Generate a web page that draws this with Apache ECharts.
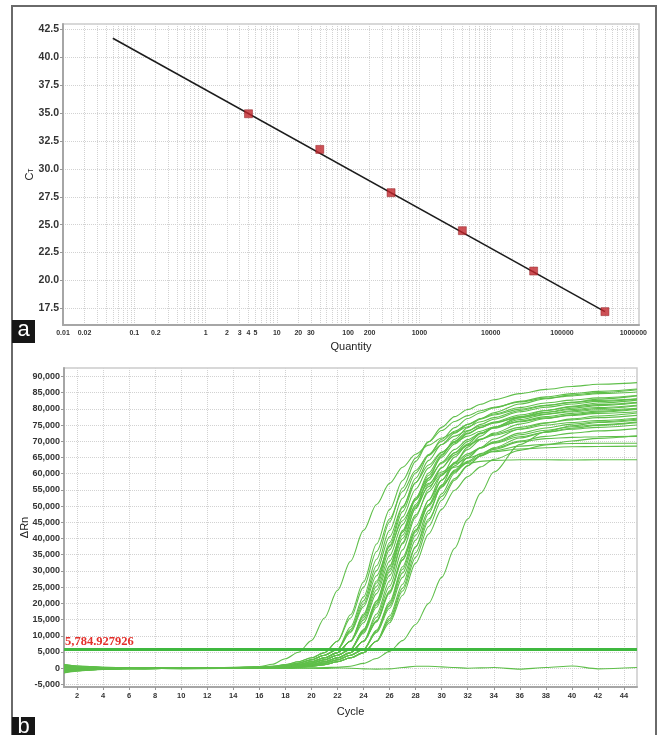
<!DOCTYPE html>
<html><head><meta charset="utf-8">
<script src="https://cdn.jsdelivr.net/npm/echarts@6/dist/echarts.min.js"></script>
<style>html,body{margin:0;padding:0;background:#fff}#c{width:659px;height:735px}</style>
</head><body><div id="c"></div>
<script>
// ---------- Panel a: standard curve ----------
const QUANTITY = [4, 40, 400, 4000, 40000, 400000];
const CT = [34.95, 31.75, 27.87, 24.46, 20.84, 17.2];
const FIT_Q = [0.05, 400000];
const FIT_CT = [41.72, 17.2];
const Q_LABELS = [0.01, 0.02, 0.1, 0.2, 1, 2, 3, 4, 5, 10, 20, 30, 100, 200, 1000, 10000, 100000, 1000000];
const CT_TICKS = [17.5, 20, 22.5, 25, 27.5, 30, 32.5, 35, 37.5, 40, 42.5];

// ---------- Panel b: amplification plot (ΔRn in thousands) ----------
const CYCLES = [1,2,4,7,10,13,16,17,18,19,20,21,22,23,24,25,26,27,28,29,30,31,32,33,34,36,38,40,42,45];
const CYCLE_TICKS = [2,4,6,8,10,12,14,16,18,20,22,24,26,28,30,32,34,36,38,40,42,44];
const RN_TICKS = [-5000,0,5000,10000,15000,20000,25000,30000,35000,40000,45000,50000,55000,60000,65000,70000,75000,80000,85000,90000];
const THRESHOLD = 5784.927926;
const RN_UNIT = 1000;

const CURVE_EARLY = [-0.3,-0.2,0,0.1,0.1,0.2, 0.5,1.2,2.9,4.9,8.5,15.5,24,33,42.5,50.5,57,62,66,68.8,71,72.8,74.5,76,77.3,79.5,81,82,83,84];
const CURVE_LATE = [0.4,0.2,0,-0.1,0.1,0, 0,0.1,0,0.1,0.1,0.2,0.3,0.6,1.5,3.0,5.2,8.5,13.5,20,28,37,46,54,60.5,69,73,74.8,75.8,76.5];
const CURVE_NEG = [-0.6,-0.4,-0.2,0,0.1,-0.1, 0,0,-0.1,0,0,-0.1,0.1,0,-0.2,-0.3,-0.2,0.2,0.6,0.6,0.4,0.2,0,0.1,0.2,-0.3,0.2,0.7,-0.2,0.2];

const CURVES_CT21 = [
 [-1.2,-0.6,-0.2,0,0.1,0.1, 0.35,0.6,1.1,2.0,3.2,4.8,8.3,16.5,26.6,38.3,48.9,57.9,64.8,69.8,73.3,76.1,77.9,79.4,80.5,82.1,83.3,84,84.7,85.2],
 [0.9,0.5,0.2,0.1,-0.1,0.1, 0.35,0.6,1.1,2.0,3.2,4.8,8.3,15.5,25,36,46,54.5,61,65.7,69,71.6,73.3,74.7,75.8,77.3,78.4,79.1,79.7,80.2]
];
const CURVES_CT22 = [
 [-0.4,-0.2,0,0.2,0,-0.1, 0.25,0.45,0.8,1.5,2.6,4.0,5.8,12.7,22,33.6,45.1,55.6,63.8,69.9,74.3,77.6,79.8,81.4,82.8,84.7,86,86.9,87.6,88.1],
 [0.5,0.3,-0.1,-0.2,0.1,0.1, 0.25,0.45,0.8,1.5,2.6,4.0,5.8,11.4,19.8,30.1,40.5,49.9,57.3,62.7,66.7,69.6,71.6,73.1,74.4,76,77.2,78,78.6,79.1],
 [-0.8,-0.5,-0.3,0.1,0.2,0, 0.25,0.45,0.8,1.5,2.6,4.0,5.8,11.9,20.8,31.6,42.5,52.4,60.2,65.9,70,73.1,75.2,76.8,78.1,79.9,81.1,82,82.6,83.1],
 [1.2,0.7,0.3,0,-0.2,-0.1, 0.25,0.45,0.8,1.5,2.6,4.0,5.8,11,19,28.5,37.5,45.5,52,57,60.5,63,64.8,66,66.8,67.6,68,68.3,68.4,68.5]
];
const CURVES_CT22_5 = [
 [-1.5,-0.9,-0.4,-0.1,0,0.1, 0.2,0.35,0.6,1.1,2.0,3.2,4.8,8.3,16.3,26.3,37.8,48.3,57.2,64.1,69,72.5,75.2,77,78.4,80.4,81.8,82.7,83.4,84.1],
 [0.2,0.1,0,0.1,-0.1,0, 0.2,0.35,0.6,1.1,2.0,3.2,4.8,8.3,14.9,24.1,34.7,44.3,52.5,58.7,63.2,66.4,68.9,70.6,71.9,73.7,75,75.8,76.4,77.1],
 [-1.0,-0.7,-0.3,0.1,0.1,0, 0.2,0.35,0.6,1.1,2.0,3.2,4.8,8.3,15.7,25.3,36.5,46.6,55.2,61.8,66.5,69.9,72.5,74.2,75.6,77.6,78.9,79.8,80.4,81.1],
 [0.7,0.4,0.1,-0.1,0,0.1, 0.2,0.35,0.6,1.1,2.0,3.2,4.8,8.3,16.7,26.9,38.7,49.5,58.6,65.6,70.6,74.2,77,78.8,80.3,82.3,83.7,84.7,85.4,86.1],
 [-0.2,-0.1,0.1,0.2,-0.1,0, 0.2,0.35,0.6,1.1,2.0,3.2,4.8,8.3,14,23,33,42,50,56,60,62,63.2,63.8,64.1,64.3,64.3,64.2,64.3,64.3]
];
const CURVES_CT23 = [
 [0.3,0.2,-0.2,-0.1,0.1,0.1, 0.15,0.25,0.45,0.8,1.5,2.6,4.0,5.8,11.5,20,30.5,41,50.5,58,63.5,67.5,70.5,72.5,74,76.2,77.6,78.6,79.3,80],
 [-1.3,-0.8,-0.3,0,0.2,0.1, 0.15,0.25,0.45,0.8,1.5,2.6,4.0,5.8,10.8,18.8,28.6,38.4,47.3,54.4,59.5,63.3,66.1,68,69.4,71.4,72.8,73.7,74.3,75],
 [1.0,0.6,0.2,0.1,-0.1,0, 0.15,0.25,0.45,0.8,1.5,2.6,4.0,5.8,11.9,20.8,31.6,42.5,52.4,60.2,65.9,70,73.1,75.2,76.8,79.1,80.5,81.5,82.3,83],
 [-0.6,-0.4,-0.1,0,0,0.1, 0.15,0.25,0.45,0.8,1.5,2.6,4.0,5.8,11.2,19.5,29.7,40,49.2,56.6,61.9,65.8,68.7,70.7,72.2,74.3,75.7,76.6,77.3,78],
 [0.4,0.3,0.1,-0.2,0.1,-0.1, 0.15,0.25,0.45,0.8,1.5,2.6,4.0,5.8,11.8,20.5,31.3,42,51.8,59.5,65.1,69.2,72.3,74.3,75.9,78.1,79.5,80.6,81.3,82]
];
const CURVES_CT23_5 = [
 [-1.2,-0.7,-0.2,0,0.1,0, 0.12,0.2,0.35,0.6,1.1,2.0,3.2,4.8,8.3,15.7,25.3,36.5,46.6,55.2,61.8,66.5,69.9,72.5,74.2,76.7,78.3,79.4,80.1,80.9],
 [0.8,0.5,0.2,0,-0.1,0.1, 0.12,0.2,0.35,0.6,1.1,2.0,3.2,4.8,8.3,14.7,23.8,34.2,43.7,51.8,58,62.4,65.6,68,69.6,72,73.4,74.5,75.1,75.9],
 [-0.5,-0.3,0,0.1,0,0, 0.12,0.2,0.35,0.6,1.1,2.0,3.2,4.8,8.3,16.7,26.9,38.7,49.5,58.6,65.6,70.6,74.2,77,78.8,81.5,83.1,84.3,85,85.9],
 [0.6,0.4,0,-0.2,0.1,0, 0.12,0.2,0.35,0.6,1.1,2.0,3.2,4.8,8.3,14.3,23.1,33.3,42.6,50.4,56.4,60.8,63.8,66.2,67.8,70.1,71.5,72.5,73.2,73.9],
 [-0.9,-0.6,-0.2,0.1,0.1,-0.1, 0.12,0.2,0.35,0.6,1.1,2.0,3.2,4.8,8.3,14.5,23.5,33.5,42.5,50,56,60.5,63.5,65.5,67,68.5,69.1,69.3,69.4,69.4]
];
const CURVES_CT24 = [
 [1.1,0.7,0.3,0.1,-0.1,0, 0.1,0.15,0.25,0.45,0.8,1.5,2.6,4.0,5.8,11.1,19.3,29.4,39.5,48.6,55.8,61.1,65,67.9,69.8,72.5,74.1,75.3,76,76.8],
 [-1.4,-0.8,-0.3,-0.1,0.1,0.1, 0.1,0.15,0.25,0.45,0.8,1.5,2.6,4.0,5.8,11.8,20.5,31.3,42,51.8,59.5,65.1,69.2,72.3,74.3,77.2,78.9,80.2,81,81.8],
 [0.1,0.1,0,0,-0.1,0, 0.1,0.15,0.25,0.45,0.8,1.5,2.6,4.0,5.8,11,18.5,28,37.5,46,53,58.5,62.5,65.5,67.5,69.8,70.8,71.2,71.4,71.5],
 [-0.7,-0.5,-0.2,0.1,0,0.1, 0.1,0.15,0.25,0.45,0.8,1.5,2.6,4.0,5.8,11.5,20,30.5,41,50.5,58,63.5,67.5,70.5,72.5,75.3,77,78.2,79,79.8]
];
const CURVES_CT24_5 = [
 [0.5,0.3,0.1,0,0,-0.1, 0.1,0.12,0.2,0.35,0.6,1.1,2.0,3.2,4.8,8.3,14.7,23.8,34.2,43.7,51.8,58,62.4,65.6,68,71,72.8,74,74.9,75.7],
 [-1.1,-0.6,-0.2,0.1,0.1,0, 0.1,0.12,0.2,0.35,0.6,1.1,2.0,3.2,4.8,8.3,15.3,24.7,35.6,45.4,53.8,60.2,64.9,68.1,70.7,73.8,75.6,76.9,77.8,78.7],
 [0.3,0.2,0,-0.1,0.1,0, 0.1,0.12,0.2,0.35,0.6,1.1,2.0,3.2,4.8,8.3,14,22.5,32.4,41.4,49,54.9,59.1,62.1,64.4,67.2,68.9,70.1,70.9,71.7],
 [-0.3,-0.2,0.1,0,-0.1,0.1, 0.1,0.12,0.2,0.35,0.6,1.1,2.0,3.2,4.8,8.3,16.1,25.9,37.4,47.7,56.5,63.3,68.2,71.6,74.3,77.5,79.5,80.8,81.8,82.7]
];

// ---------- build ----------
const log10 = Math.log10;
const gridQ = [];
for (let n = -2; n <= 5; n++) for (let k = 1; k <= 9; k++) gridQ.push(log10(k * Math.pow(10, n)));
gridQ.push(6);

const FONT = 'Liberation Sans, Arial, sans-serif';
const GREEN = '#5fbf4a';
const THR_GREEN = '#3fb83f';
const allCurves = [CURVE_NEG, ...CURVES_CT24_5, ...CURVES_CT24, ...CURVES_CT23_5, ...CURVES_CT23,
  ...CURVES_CT22_5, ...CURVES_CT22, ...CURVES_CT21, CURVE_EARLY, CURVE_LATE];

const series = [
  { type: 'line', xAxisIndex: 0, yAxisIndex: 0, silent: true, symbol: 'none',
    data: FIT_Q.map((q, i) => [log10(q), FIT_CT[i]]),
    lineStyle: { color: '#1c1c1c', width: 1.5 }, z: 3 },
  { type: 'scatter', xAxisIndex: 0, yAxisIndex: 0, silent: true, symbol: 'rect', symbolSize: 8,
    data: QUANTITY.map((q, i) => [log10(q), CT[i]]),
    itemStyle: { color: '#c2262c', borderColor: '#8c1a1e', borderWidth: 0.6 }, z: 4 }
];
allCurves.forEach(c => series.push({
  type: 'line', xAxisIndex: 1, yAxisIndex: 1, silent: true, symbol: 'none',
  smooth: 0.3, smoothMonotone: 'x',
  data: CYCLES.map((x, i) => [x, c[i] * RN_UNIT]),
  lineStyle: { color: GREEN, width: 1.1 }, z: 2
}));
series.push({
  type: 'line', xAxisIndex: 1, yAxisIndex: 1, silent: true, symbol: 'none',
  data: [[1, THRESHOLD], [45, THRESHOLD]],
  lineStyle: { color: THR_GREEN, width: 3 }, z: 5,
  markLine: {
    silent: true, symbol: 'none', animation: false,
    lineStyle: { color: THR_GREEN, width: 3, type: 'solid' },
    label: { show: true, position: 'insideStartTop', distance: [1, 1],
      formatter: '5,784.927926', color: '#e3302b', fontFamily: 'Liberation Serif, Times New Roman, serif',
      fontWeight: 'bold', fontSize: 12.5 },
    data: [{ yAxis: THRESHOLD }]
  }
});

const dotted = { show: true, lineStyle: { color: '#d2d2d2', type: 'dotted', width: 1 } };
const axisLine = { show: true, onZero: false, lineStyle: { color: '#a6a6a6', width: 2 } };

const option = {
  animation: false,
  grid: [
    { left: 63, top: 24, width: 576, height: 301, show: true, borderColor: '#cccccc', borderWidth: 1.5, containLabel: false },
    { left: 64, top: 368, width: 573, height: 319, show: true, borderColor: '#cccccc', borderWidth: 1.5, containLabel: false }
  ],
  xAxis: [
    { type: 'value', gridIndex: 0, min: -2, max: 6.08,
      name: 'Quantity', nameLocation: 'middle', nameGap: 16, nameMoveOverlap: false,
      nameTextStyle: { fontFamily: FONT, fontSize: 11, color: '#222' },
      axisLine: axisLine,
      axisTick: { show: false, customValues: gridQ },
      axisLabel: { customValues: Q_LABELS.map(log10), fontFamily: FONT, fontSize: 7, fontWeight: 'bold', color: '#333', margin: 5,
        formatter: v => String(Number(Math.pow(10, v).toPrecision(3))) },
      splitLine: dotted },
    { type: 'value', gridIndex: 1, min: 1, max: 45,
      name: 'Cycle', nameLocation: 'middle', nameGap: 19, nameMoveOverlap: false,
      nameTextStyle: { fontFamily: FONT, fontSize: 11, color: '#222' },
      axisLine: axisLine,
      axisTick: { show: true, length: 3, customValues: CYCLE_TICKS, lineStyle: { color: '#999' } },
      axisLabel: { customValues: CYCLE_TICKS, fontFamily: FONT, fontSize: 7.5, fontWeight: 'bold', color: '#333', margin: 5 },
      splitLine: dotted }
  ],
  yAxis: [
    { type: 'value', gridIndex: 0, min: 16, max: 43,
      name: '{c|C}{t|T}', nameLocation: 'middle', nameGap: 28, nameRotate: 90, nameMoveOverlap: false,
      nameTextStyle: { rich: { c: { fontFamily: FONT, fontSize: 11, color: '#222' },
                               t: { fontFamily: FONT, fontSize: 7, color: '#222', padding: [4, 0, 0, 0] } } },
      axisLine: axisLine,
      axisTick: { show: true, length: 3, customValues: CT_TICKS, lineStyle: { color: '#999' } },
      axisLabel: { customValues: CT_TICKS, fontFamily: FONT, fontSize: 10.5, fontWeight: 'bold', color: '#333', margin: 4,
        formatter: v => v.toFixed(1) },
      splitLine: dotted },
    { type: 'value', gridIndex: 1, min: -5800, max: 92600,
      name: 'ΔRn', nameLocation: 'middle', nameGap: 34, nameRotate: 90, nameMoveOverlap: false,
      nameTextStyle: { fontFamily: FONT, fontSize: 11, color: '#222' },
      axisLine: axisLine,
      axisTick: { show: true, length: 3, customValues: RN_TICKS, lineStyle: { color: '#999' } },
      axisLabel: { customValues: RN_TICKS, fontFamily: FONT, fontSize: 9, fontWeight: 'bold', color: '#333', margin: 4,
        formatter: v => v.toLocaleString('en-US') },
      splitLine: dotted }
  ],
  series: series,
  graphic: [
    { type: 'rect', shape: { x: 12, y: 6, width: 644, height: 745 }, style: { fill: 'none', stroke: '#6a6a6a', lineWidth: 2 }, silent: true, z: 10 },
    { type: 'rect', shape: { x: 12, y: 320, width: 23, height: 23 }, style: { fill: '#161616' }, z: 11 },
    { type: 'text', x: 23.5, y: 330, style: { text: 'a', fill: '#fff', font: '22px Liberation Sans, Arial, sans-serif', align: 'center', verticalAlign: 'middle' }, z: 12 },
    { type: 'rect', shape: { x: 12, y: 717, width: 23, height: 22 }, style: { fill: '#161616' }, z: 11 },
    { type: 'text', x: 23.5, y: 716, style: { text: 'b', fill: '#fff', font: '22px Liberation Sans, Arial, sans-serif', align: 'center', verticalAlign: 'top' }, z: 12 }
  ]
};
const chart = echarts.init(document.getElementById('c'), null, { renderer: 'canvas' });
chart.setOption(option);
</script></body></html>
